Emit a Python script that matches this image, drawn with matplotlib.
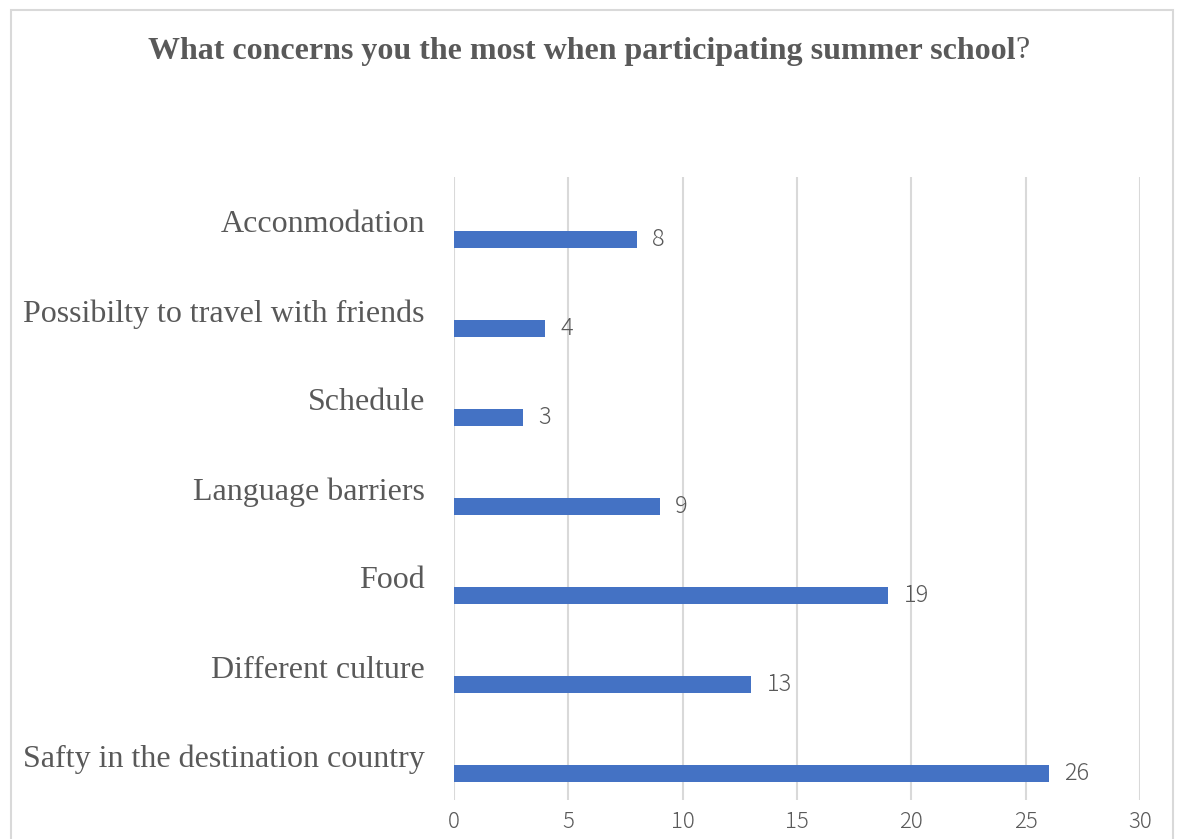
import matplotlib
matplotlib.use("Agg")
import matplotlib.pyplot as plt
from matplotlib.patches import Rectangle

categories = [
    "Acconmodation",
    "Possibilty to travel with friends",
    "Schedule",
    "Language barriers",
    "Food",
    "Different culture",
    "Safty in the destination country",
]
values = [8, 4, 3, 9, 19, 13, 26]
x_ticks = [0, 5, 10, 15, 20, 25, 30]

TEXT = "#595959"
BAR = "#4472C4"
GRID = "#D9D9D9"
SERIF = "Liberation Serif"
SANS = ["Noto Sans CJK JP", "DejaVu Sans"]

fig = plt.figure(figsize=(11.77, 8.39), dpi=100)
fig.patch.set_facecolor("white")

# outer chart frame
fig.patches.append(Rectangle((11 / 1177, -0.05), 1162 / 1177, 1.05 - 10 / 839,
                             transform=fig.transFigure, fill=False,
                             edgecolor="#D9D9D9", linewidth=1.5))

ax = fig.add_axes([454 / 1177, 1 - 800 / 839, 686 / 1177, 623 / 839])

pos = list(range(len(categories)))
ax.barh([p + 0.2 for p in pos], values, height=0.19, color=BAR, zorder=3)

for p, v in zip(pos, values):
    ax.annotate(str(v), (v, p + 0.2), xytext=(11, 0), textcoords="offset points",
                va="center", ha="left", color=TEXT, fontsize=17,
                family=SANS, fontweight="light")

ax.set_xlim(0, 30)
ax.set_ylim(len(categories) - 0.5, -0.5)
ax.set_xticks(x_ticks)
ax.set_xticklabels([str(t) for t in x_ticks], family=SANS, fontsize=16,
                   color=TEXT, fontweight="light")
ax.set_yticks(pos)
ax.set_yticklabels(categories, family=SERIF, fontsize=23, color=TEXT)
ax.tick_params(axis="both", length=0)
ax.tick_params(axis="y", pad=21)
ax.tick_params(axis="x", pad=8)
for s in ax.spines.values():
    s.set_visible(False)
ax.xaxis.grid(True, color=GRID, linewidth=1.5, zorder=0)
ax.set_axisbelow(True)

# title: bold question text followed by a regular-weight question mark
title_y = 1 - 51 / 839
t = fig.text(0.5, title_y, "What concerns you the most when participating summer school",
             family=SERIF, fontsize=23, fontweight="bold", color=TEXT,
             ha="left", va="center")
q = fig.text(0, title_y, "?", family=SERIF, fontsize=23, color=TEXT,
             ha="left", va="center")
fig.canvas.draw()
renderer = fig.canvas.get_renderer()
bw = t.get_window_extent(renderer=renderer).width
qw = q.get_window_extent(renderer=renderer).width
x0 = (fig.bbox.width - (bw + qw)) / 2
t.set_x(x0 / fig.bbox.width)
q.set_x((x0 + bw) / fig.bbox.width)

fig.savefig("out.png", dpi=100, facecolor="white")
